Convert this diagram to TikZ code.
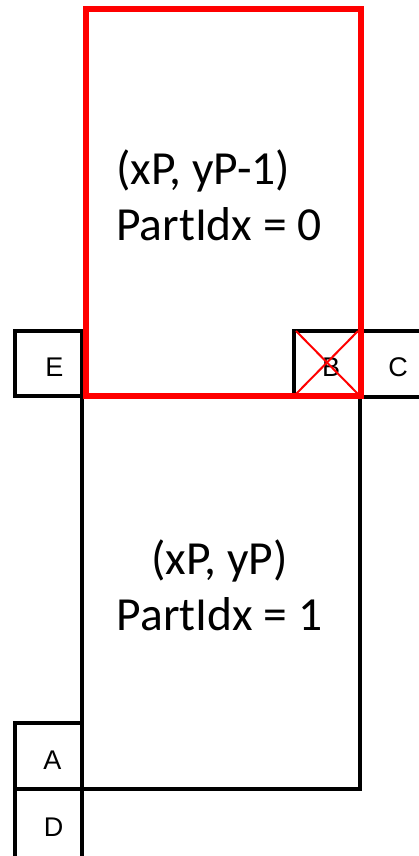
\documentclass[tikz,border=0pt]{standalone}
\usepackage{fontspec}
\setmainfont{Carlito}
\newfontfamily\labelfont{Liberation Sans}

\begin{document}
\begin{tikzpicture}[x=1pt, y=-1pt,
	blk/.style={line width=3.5pt, color=black},
	part/.style={line width=6pt, color=red},
	cross/.style={line width=2pt, color=red},
	lbl/.style={font=\labelfont\fontsize{27}{30}\selectfont, inner sep=0pt},
	idx/.style={font=\fontsize{47.5}{56}\selectfont, inner sep=0pt}]
		%%%%% START %%%%%
		\useasboundingbox (0, 0) rectangle (419, 856);
		\clip (0, 0) rectangle (419, 856);
		
		\draw[blk] (15, 331) rectangle (82, 396);
		\draw[blk] (294, 331) rectangle (361, 396);
		\draw[blk] (361, 331) rectangle (440, 397);
		\draw[blk] (15, 723) rectangle (82, 789);
		\draw[blk] (15, 789) rectangle (82, 880);
		
		\draw[blk] (82, 396) rectangle (360, 789);
		
		\node[lbl] (E) at (54.5, 367) {E};
		\node[lbl] (B) at (331, 367) {B};
		\node[lbl] (C) at (398, 367) {C};
		\node[lbl] (A) at (52.5, 760) {A};
		\node[lbl] (D) at (53.5, 827.5) {D};
		
		\draw[part] (86, 9) rectangle (361, 396);
		
		\draw[cross] (296, 331) -- (358, 394);
		\draw[cross] (358, 331) -- (296, 394);
		
		\node[idx, align=left, anchor=north west] (upper) at (116, 150) {(xP, yP-1)\\PartIdx = 0};
		\node[idx, align=center, anchor=north] (lower) at (219.5, 540) {(xP, yP)\\PartIdx = 1};
		
		%%%%% END %%%%%
\end{tikzpicture}
\end{document}
